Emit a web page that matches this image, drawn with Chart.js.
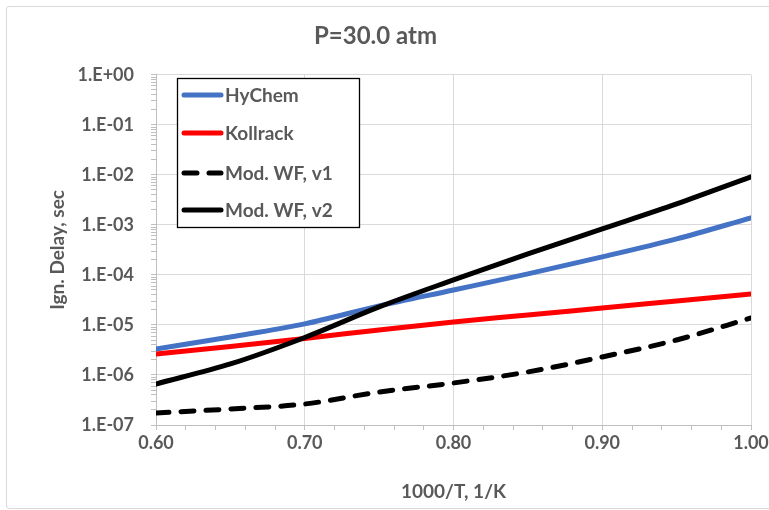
<!DOCTYPE html>
<html>
<head>
<meta charset="utf-8">
<script src="https://cdn.jsdelivr.net/npm/chart.js@4.4.0/dist/chart.umd.min.js"></script>
<style>
    html, body { margin: 0; padding: 0; background: #fff; overflow: hidden; }
    #wrap { position: relative; width: 769px; height: 510px; overflow: hidden; }
    #frame { position: absolute; left: 6px; top: 6px; width: 800px; height: 501px; border: 1px solid #d9d9d9; border-radius: 3px; }
    #chart { position: absolute; left: 0; top: 0; }
</style>
</head>
<body>
<div id="wrap">
    <div id="frame"></div>
    <canvas id="chart" width="790" height="510"></canvas>
</div>
<script>
// 1000/T values where the curves were read
const invT = [0.60, 0.65, 0.70, 0.75, 0.80, 0.85, 0.90, 0.95, 1.00];

// ignition delay, sec
const hychem   = [3.31e-6, 5.75e-6, 1.05e-5, 2.40e-5, 5.0e-5, 1.05e-4, 2.29e-4, 5.25e-4, 1.38e-3];
const kollrack = [2.63e-6, 3.72e-6, 5.37e-6, 7.94e-6, 1.15e-5, 1.58e-5, 2.19e-5, 3.02e-5, 4.17e-5];
const modWFv1  = [1.74e-7, 2.09e-7, 2.63e-7, 4.57e-7, 6.92e-7, 1.15e-6, 2.29e-6, 5.01e-6, 1.38e-5];
const modWFv2  = [6.61e-7, 1.66e-6, 5.62e-6, 2.29e-5, 7.94e-5, 2.63e-4, 8.32e-4, 2.63e-3, 9.12e-3];

const seriesNames = ['HyChem', 'Kollrack', 'Mod. WF, v1', 'Mod. WF, v2'];

// axis ticks
const xTickValues = [0.60, 0.70, 0.80, 0.90, 1.00];
const xTickLabels = ['0.60', '0.70', '0.80', '0.90', '1.00'];
const yTickValues = [1, 1e-1, 1e-2, 1e-3, 1e-4, 1e-5, 1e-6, 1e-7];
const yTickLabels = ['1.E+00', '1.E-01', '1.E-02', '1.E-03', '1.E-04', '1.E-05', '1.E-06', '1.E-07'];

const GREY = '#595959';
const GRID = '#d9d9d9';
const FONT = 'Lato, "Open Sans", sans-serif';

const pts = arr => invT.map((x, i) => ({ x: x, y: arr[i] }));

// minor tick marks (not gridlines) like excel
const xAllTicks = [];
for (let i = 0; i <= 20; i++) xAllTicks.push(+(0.6 + i * 0.02).toFixed(2));
const yAllTicks = [];
for (let e = -7; e <= 0; e++) {
    for (let m = 1; m <= 9; m++) {
        const v = m * Math.pow(10, e);
        if (v <= 1.0000001) yAllTicks.push(+v.toPrecision(3));
    }
}
const isXMajor = v => xTickValues.some(t => Math.abs(t - v) < 1e-6);
const isYMajor = v => yTickValues.some(t => Math.abs(t - v) / t < 1e-6);

const legendBox = {
    id: 'legendBox',
    afterDatasetsDraw(chart) {
        const ctx = chart.ctx;
        const sets = chart.data.datasets;
        ctx.save();
        ctx.fillStyle = '#fff';
        ctx.fillRect(177, 78, 182, 149);
        ctx.strokeStyle = '#000';
        ctx.lineWidth = 1.3;
        ctx.strokeRect(177.5, 78.5, 182, 149);
        const rows = [95, 133, 173, 210];
        ctx.font = 'bold 19px ' + FONT;
        ctx.textBaseline = 'middle';
        sets.forEach((ds, i) => {
            ctx.beginPath();
            ctx.lineWidth = 5;
            ctx.lineCap = 'round';
            ctx.strokeStyle = ds.borderColor;
            ctx.setLineDash(ds.borderDash || []);
            ctx.moveTo(184, rows[i]);
            ctx.lineTo(221, rows[i]);
            ctx.stroke();
            ctx.setLineDash([]);
            ctx.fillStyle = GREY;
            ctx.fillText(ds.label, 225, rows[i] + 1);
        });
        ctx.restore();
    }
};

new Chart(document.getElementById('chart'), {
    type: 'line',
    data: {
        datasets: [
            { label: seriesNames[0], data: pts(hychem), borderColor: '#4472C4', order: 3 },
            { label: seriesNames[1], data: pts(kollrack), borderColor: '#FF0000', order: 2 },
            { label: seriesNames[2], data: pts(modWFv1), borderColor: '#000000', borderDash: [13, 12], order: 1 },
            { label: seriesNames[3], data: pts(modWFv2), borderColor: '#000000', order: 0 }
        ].map(d => Object.assign({
            borderWidth: 5,
            pointRadius: 0,
            fill: false,
            cubicInterpolationMode: 'monotone',
            borderCapStyle: 'round'
        }, d))
    },
    options: {
        responsive: false,
        animation: false,
        layout: { padding: { left: 0, right: 39, top: 0, bottom: 0 } },
        plugins: {
            legend: { display: false },
            tooltip: { enabled: false },
            title: {
                display: true,
                text: 'P=30.0 atm',
                color: GREY,
                font: { family: FONT, size: 24, weight: 'bold' },
                padding: { top: 22, bottom: 24 }
            }
        },
        scales: {
            x: {
                type: 'linear',
                min: 0.6,
                max: 1.0,
                afterBuildTicks: s => { s.ticks = xAllTicks.map(v => ({ value: v })); },
                afterFit: s => { s.height = 85; s.paddingLeft = 0; s.paddingRight = 0; },
                grid: {
                    color: c => isXMajor(c.tick.value) ? GRID : 'rgba(0,0,0,0)',
                    tickColor: '#bfbfbf',
                    tickLength: 5
                },
                border: { color: '#bfbfbf' },
                ticks: {
                    autoSkip: false,
                    maxRotation: 0,
                    padding: 2,
                    color: GREY,
                    font: { family: FONT, size: 18, weight: 'bold' },
                    callback: v => {
                        const i = xTickValues.findIndex(t => Math.abs(t - v) < 1e-6);
                        return i >= 0 ? xTickLabels[i] : '';
                    }
                },
                title: {
                    display: true,
                    text: '1000/T, 1/K',
                    color: GREY,
                    font: { family: FONT, size: 19, weight: 'bold' },
                    padding: { top: 0, bottom: 7 }
                }
            },
            y: {
                type: 'logarithmic',
                min: 1e-7,
                max: 1,
                afterBuildTicks: s => { s.ticks = yAllTicks.map(v => ({ value: v })); },
                afterFit: s => { s.width = 156; s.paddingTop = 0; s.paddingBottom = 0; },
                grid: {
                    color: c => isYMajor(c.tick.value) ? GRID : 'rgba(0,0,0,0)',
                    tickColor: '#bfbfbf',
                    tickLength: 5
                },
                border: { color: '#bfbfbf' },
                ticks: {
                    autoSkip: false,
                    padding: 17,
                    color: GREY,
                    font: { family: FONT, size: 18, weight: 'bold' },
                    callback: v => {
                        const i = yTickValues.findIndex(t => Math.abs(t - v) / t < 1e-6);
                        return i >= 0 ? yTickLabels[i] : '';
                    }
                },
                title: {
                    display: true,
                    text: 'Ign. Delay, sec',
                    color: GREY,
                    font: { family: FONT, size: 19, weight: 'bold' },
                    padding: { top: 46, bottom: 0 }
                }
            }
        }
    },
    plugins: [legendBox]
});
</script>
</body>
</html>
